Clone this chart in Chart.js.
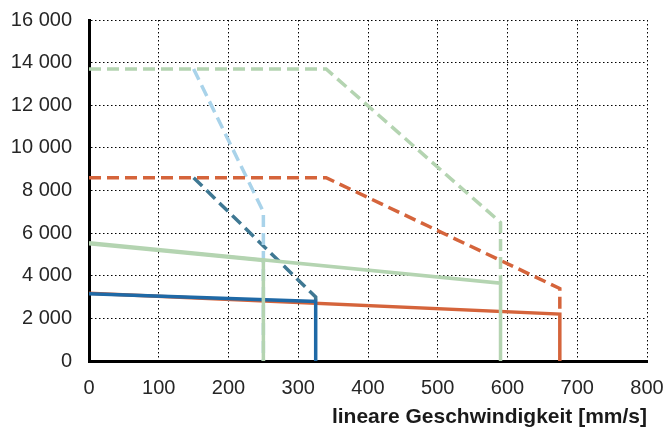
<!DOCTYPE html>
<html>
<head>
<meta charset="utf-8">
<script src="https://cdn.jsdelivr.net/npm/chart.js@4/dist/chart.umd.min.js"></script>
<style>
  html, body { margin: 0; padding: 0; background: #fff; }
  #wrap { width: 664px; height: 430px; }
</style>
</head>
<body>
<div id="wrap"><canvas id="chart" width="664" height="430"></canvas></div>
<script>
// Werte (Geschwindigkeit mm/s, Kraft)
var yTickLabels = ['0', '2 000', '4 000', '6 000', '8 000', '10 000', '12 000', '14 000', '16 000'];
var xTickLabels = ['0', '100', '200', '300', '400', '500', '600', '700', '800'];

// gestrichelte Kurven
var greenDashX = [0, 340, 590, 590];
var greenDashY = [13700, 13700, 6500, 3650];
var lightBlueDashX = [150, 250, 250];
var lightBlueDashY = [13700, 7000, 0];
var orangeDashX = [0, 340, 675, 675];
var orangeDashY = [8600, 8600, 3400, 2200];
var darkBlueDashX = [150, 325, 325];
var darkBlueDashY = [8600, 3000, 2790];

// durchgezogene Kurven
var greenSolidX = [0, 590, 590];
var greenSolidY = [5550, 3650, 0];
var greenSolid2X = [0, 250, 250];
var greenSolid2Y = [5500, 4720, 0];
var blueSolidX = [0, 325, 325];
var blueSolidY = [3150, 2790, 0];
var orangeSolidX = [0, 675, 675];
var orangeSolidY = [3180, 2200, 0];

function pts(xs, ys) {
    return xs.map(function(x, i) { return { x: x, y: ys[i] }; });
}

function line(xs, ys, color, dashed) {
    return {
        data: pts(xs, ys),
        showLine: true,
        borderColor: color,
        backgroundColor: color,
        borderWidth: 3.5,
        borderDash: dashed ? [12, 6] : [],
        pointRadius: 0,
        fill: false,
        tension: 0
    };
}

var tickFont = { family: 'Liberation Sans, Arial, sans-serif', size: 20 };

var ctx = document.getElementById('chart').getContext('2d');
var chart = new Chart(ctx, {
    type: 'scatter',
    data: {
        datasets: [
            line(greenSolid2X, greenSolid2Y, '#b4d4b1', false),
            line(greenSolidX, greenSolidY, '#b4d4b1', false),
            line(blueSolidX, blueSolidY, '#1f69a6', false),
            line(orangeSolidX, orangeSolidY, '#d5643b', false),
            line(greenDashX, greenDashY, '#b4d4b1', true),
            line(orangeDashX, orangeDashY, '#d5643b', true),
            line(lightBlueDashX, lightBlueDashY, '#a9d3ea', true),
            line(darkBlueDashX, darkBlueDashY, '#3f7893', true)
        ]
    },
    options: {
        responsive: false,
        animation: false,
        layout: { padding: { top: 20, right: 17, left: 0, bottom: 0 } },
        plugins: { legend: { display: false }, tooltip: { enabled: false } },
        scales: {
            x: {
                type: 'linear',
                min: 0,
                max: 800,
                afterFit: function(s) {
                    s.height = 69;
                    s.paddingLeft = 0;
                    s.paddingRight = 0;
                },
                ticks: {
                    stepSize: 100,
                    padding: 15,
                    color: '#262626',
                    font: tickFont,
                    maxRotation: 0,
                    callback: function(v, i) { return xTickLabels[i]; }
                },
                grid: { color: '#000', lineWidth: 1, drawTicks: false },
                border: { display: true, color: '#000', width: 3, dash: [1.5, 2.5] },
                title: {
                    display: true,
                    text: 'lineare Geschwindigkeit [mm/s]',
                    align: 'end',
                    color: '#1a1a1a',
                    font: { family: 'Liberation Sans, Arial, sans-serif', size: 21, weight: 'bold' },
                    padding: { top: 0, bottom: 0 }
                }
            },
            y: {
                type: 'linear',
                min: 0,
                max: 16000,
                afterFit: function(s) {
                    s.width = 89;
                    s.paddingTop = 0;
                    s.paddingBottom = 0;
                },
                ticks: {
                    stepSize: 2000,
                    padding: 17,
                    color: '#262626',
                    font: tickFont,
                    callback: function(v, i) { return yTickLabels[i]; }
                },
                grid: { color: '#000', lineWidth: 1, drawTicks: false },
                border: { display: true, color: '#000', width: 3, dash: [1.5, 2.5] }
            }
        }
    }
});
</script>
</body>
</html>
